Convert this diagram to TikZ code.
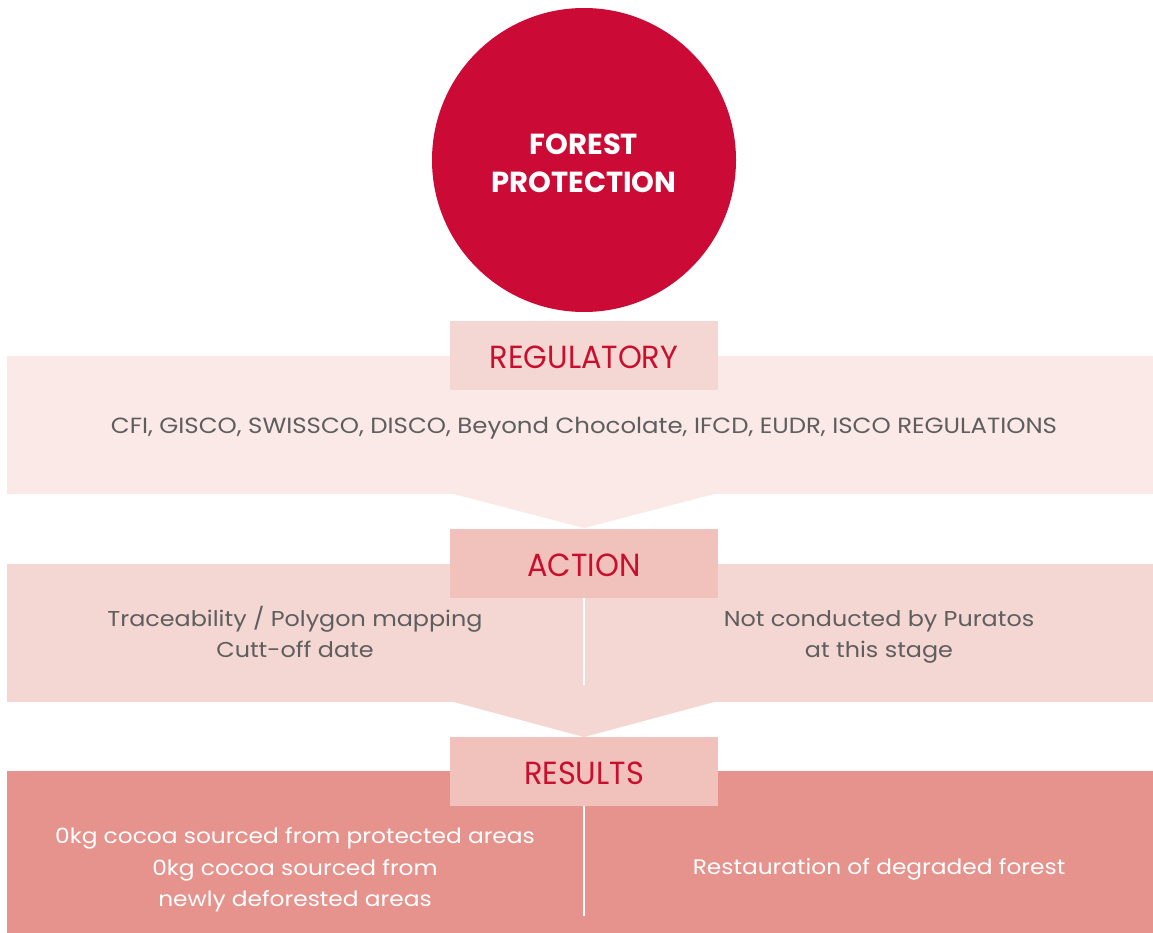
\documentclass[tikz,border=0pt]{standalone}
\usepackage{fontspec}
\setmainfont{Poppins}
\newfontfamily\bodyfont{Poppins}[FakeStretch=1.11]
\newfontfamily\labfont{Poppins}[FakeStretch=0.95]
\definecolor{cred}{HTML}{CB0A35}
\definecolor{tred}{HTML}{C8102E}
\definecolor{tgray}{HTML}{5E5E5E}
\definecolor{bandA}{HTML}{FAE9E7}
\definecolor{bandB}{HTML}{F4D6D2}
\definecolor{bandC}{HTML}{E6938D}
\definecolor{labA}{HTML}{F4D6D2}
\definecolor{labB}{HTML}{F1C1BB}
\begin{document}
\begin{tikzpicture}[x=1pt,y=-1pt,
  band/.style={rectangle, inner sep=0pt, anchor=north west, minimum width=1146pt},
  lab/.style={rectangle, inner sep=0pt, minimum width=268pt, minimum height=69pt, anchor=north},
  labtext/.style={inner sep=0pt, anchor=base, text=tred, font=\labfont\fontsize{32}{36}\selectfont},
  titletext/.style={inner sep=0pt, anchor=base, text=white, font=\fontsize{29}{36}\selectfont\bfseries},
  body/.style={inner sep=0pt, anchor=base, text=tgray, font=\bodyfont\fontsize{22}{30}\selectfont},
  bodyact/.style={body, font=\bodyfont\fontsize{21.5}{30}\selectfont},
  bodyw/.style={inner sep=0pt, anchor=base, text=white, font=\bodyfont\fontsize{21}{30}\selectfont},
  divider/.style={draw=white, line width=1.6pt}]
\useasboundingbox (0,0) rectangle (1153,933);
\fill[white] (0,0) rectangle (1153,933);
% circle
\node[circle, fill=cred, minimum size=304pt, inner sep=0pt] (fp) at (584,160) {};
\node[titletext] (fp1) at (584,154.5) {FOREST};
\node[titletext] (fp2) at (584,193) {PROTECTION};
% band 1
\node[band, fill=bandA, minimum height=138pt] (b1) at (7,356) {};
\fill[bandA] (450,493) -- (718,493) -- (584,528) -- cycle;
\node[lab, fill=labA] (l1) at (584,321) {};
\node[labtext] (l1t) at (584,368.5) {REGULATORY};
\node[body] (t1) at (584,433) {CFI, GISCO, SWISSCO, DISCO, Beyond Chocolate, IFCD, EUDR, ISCO REGULATIONS};
% band 2
\node[band, fill=bandB, minimum height=138pt] (b2) at (7,564) {};
\fill[bandB] (450,701) -- (718,701) -- (584,737) -- cycle;
\node[lab, fill=labB] (l2) at (584,529) {};
\node[labtext] (l2t) at (584,576.5) {ACTION};
\coordinate (d2) at (584,685);
\draw[divider] (l2.south) -- (d2);
\node[bodyact] (t2a1) at (295,626) {Traceability / Polygon mapping};
\node[bodyact] (t2a2) at (295,657) {Cutt-off date};
\node[bodyact] (t2b1) at (879,626) {Not conducted by Puratos};
\node[bodyact] (t2b2) at (879,657) {at this stage};
% band 3
\node[band, fill=bandC, minimum height=162pt] (b3) at (7,771) {};
\node[lab, fill=labB] (l3) at (584,737) {};
\node[labtext] (l3t) at (584,784.5) {RESULTS};
\coordinate (d3) at (584,916);
\draw[divider] (l3.south) -- (d3);
\node[bodyw] (t3a1) at (295,843) {0kg cocoa sourced from protected areas};
\node[bodyw] (t3a2) at (295,875) {0kg cocoa sourced from};
\node[bodyw] (t3a3) at (295,906) {newly deforested areas};
\node[bodyw] (t3b) at (879,874) {Restauration of degraded forest};
\end{tikzpicture}
\end{document}
